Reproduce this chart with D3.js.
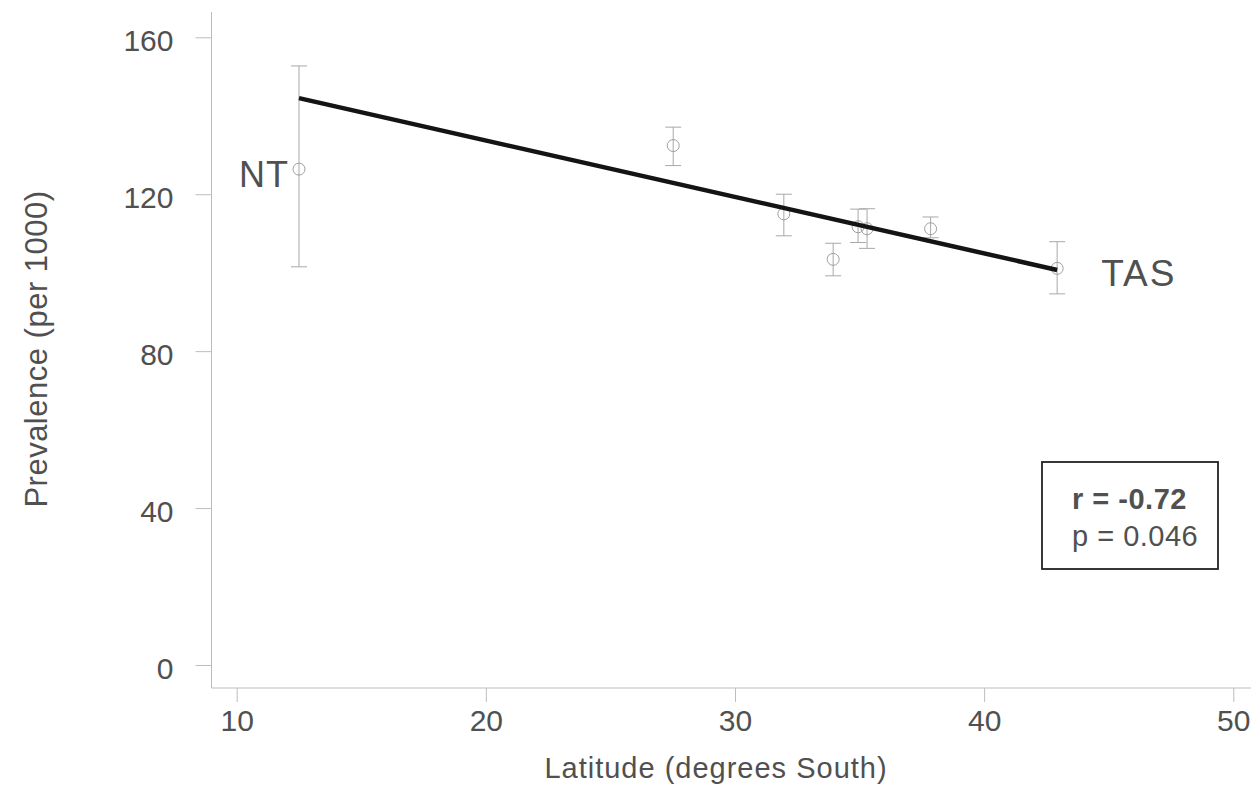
<!DOCTYPE html>
<html>
<head>
<meta charset="utf-8">
<script src="https://cdn.jsdelivr.net/npm/d3@7"></script>
<style>
	body { margin: 0; background: #fff; }
	text { font-family: "Liberation Sans", Arial, sans-serif; fill: #505050; }
</style>
</head>
<body>
<div id="chart"></div>
<script>
// latitude (degrees South) of each site and prevalence per 1000 with error bar ends
const latitude = [12.5, 27.52, 31.96, 33.94, 34.94, 35.30, 37.85, 42.93];
const prevalence = [126.4, 132.4, 115.0, 103.4, 111.7, 111.2, 111.2, 101.1];
const errLow = [101.5, 127.3, 109.4, 99.2, 107.7, 106.2, 108.9, 94.6];
const errHigh = [152.7, 137.1, 120.0, 107.5, 116.2, 116.3, 114.2, 107.9];

// fitted regression line end points
const fitLat = [12.5, 42.93];
const fitPrev = [144.5, 100.7];

// end labels
const siteLabels = [{name: "NT", lat: 12.5, prev: 126.4}, {name: "TAS", lat: 42.93, prev: 101.1}];

const xTicks = [10, 20, 30, 40, 50];
const yTicks = [0, 40, 80, 120, 160];

const width = 1251, height = 788;

const svg = d3.select("#chart")
	.append("svg")
	.attr("width", width)
	.attr("height", height);

const x = d3.scaleLinear().domain([10, 50]).range([236.7, 1233.3]);
const y = d3.scaleLinear().domain([0, 160]).range([665, 37.3]);

const axisColor = "#bdbdbd";

// axes
const xAxis = d3.axisBottom(x).tickValues(xTicks).tickSize(14).tickPadding(8).tickSizeOuter(0);
const gx = svg.append("g")
	.attr("transform", "translate(0,688)")
	.call(xAxis);
gx.select(".domain").remove();
gx.append("line")
	.attr("x1", 211.5).attr("x2", width)
	.attr("y1", 0).attr("y2", 0)
	.attr("stroke", axisColor);
gx.selectAll(".tick line").attr("stroke", axisColor);
gx.selectAll(".tick text")
	.attr("font-size", 30)
	.attr("fill", "#505050");

const yAxis = d3.axisLeft(y).tickValues(yTicks).tickSize(16).tickPadding(22).tickSizeOuter(0);
const gy = svg.append("g")
	.attr("transform", "translate(211.5,0)")
	.call(yAxis);
gy.select(".domain").remove();
gy.append("line")
	.attr("x1", 0).attr("x2", 0)
	.attr("y1", 12).attr("y2", 688)
	.attr("stroke", axisColor);
gy.selectAll(".tick line").attr("stroke", axisColor);
gy.selectAll(".tick text")
	.attr("font-size", 30)
	.attr("dy", "0.45em")
	.attr("fill", "#505050");

// axis titles
svg.append("text")
	.attr("x", 716)
	.attr("y", 778)
	.attr("text-anchor", "middle")
	.attr("font-size", 29)
	.attr("letter-spacing", 1)
	.text("Latitude (degrees South)");

svg.append("text")
	.attr("transform", "translate(47,349) rotate(-90)")
	.attr("text-anchor", "middle")
	.attr("font-size", 31)
	.attr("letter-spacing", 0.5)
	.text("Prevalence (per 1000)");

// error bars
const pts = latitude.map((d, i) => ({lat: d, prev: prevalence[i], lo: errLow[i], hi: errHigh[i]}));
const errColor = "#a8a8a8";
const cap = 8;

const eb = svg.append("g").selectAll("g")
	.data(pts)
	.enter().append("g");
eb.append("line")
	.attr("x1", d => x(d.lat)).attr("x2", d => x(d.lat))
	.attr("y1", d => y(d.lo)).attr("y2", d => y(d.hi))
	.attr("stroke", errColor);
eb.append("line")
	.attr("x1", d => x(d.lat) - cap).attr("x2", d => x(d.lat) + cap)
	.attr("y1", d => y(d.hi)).attr("y2", d => y(d.hi))
	.attr("stroke", errColor);
eb.append("line")
	.attr("x1", d => x(d.lat) - cap).attr("x2", d => x(d.lat) + cap)
	.attr("y1", d => y(d.lo)).attr("y2", d => y(d.lo))
	.attr("stroke", errColor);
eb.append("circle")
	.attr("cx", d => x(d.lat))
	.attr("cy", d => y(d.prev))
	.attr("r", 6)
	.attr("fill", "none")
	.attr("stroke", "#a0a0a0");

// regression line
const line = d3.line()
	.x(d => x(d[0]))
	.y(d => y(d[1]));
svg.append("path")
	.attr("d", line(fitLat.map((d, i) => [d, fitPrev[i]])))
	.attr("stroke", "#141414")
	.attr("stroke-width", 4.5)
	.attr("fill", "none");

// NT and TAS labels
svg.append("text")
	.attr("x", x(siteLabels[0].lat) - 10)
	.attr("y", y(siteLabels[0].prev) + 18)
	.attr("text-anchor", "end")
	.attr("font-size", 36)
	.attr("letter-spacing", 1)
	.text(siteLabels[0].name);
svg.append("text")
	.attr("x", x(siteLabels[1].lat) + 44)
	.attr("y", y(siteLabels[1].prev) + 18)
	.attr("font-size", 37)
	.attr("letter-spacing", 2)
	.text(siteLabels[1].name);

// statistics box
svg.append("rect")
	.attr("x", 1042).attr("y", 462)
	.attr("width", 176).attr("height", 107)
	.attr("fill", "#fff")
	.attr("stroke", "#222")
	.attr("stroke-width", 1.8);
svg.append("text")
	.attr("x", 1072).attr("y", 509)
	.attr("font-size", 29)
	.attr("font-weight", "bold")
	.attr("letter-spacing", 0.5)
	.attr("fill", "#333")
	.text("r = -0.72");
svg.append("text")
	.attr("x", 1072).attr("y", 546)
	.attr("font-size", 29)
	.attr("letter-spacing", 0.5)
	.text("p = 0.046");
</script>
</body>
</html>
